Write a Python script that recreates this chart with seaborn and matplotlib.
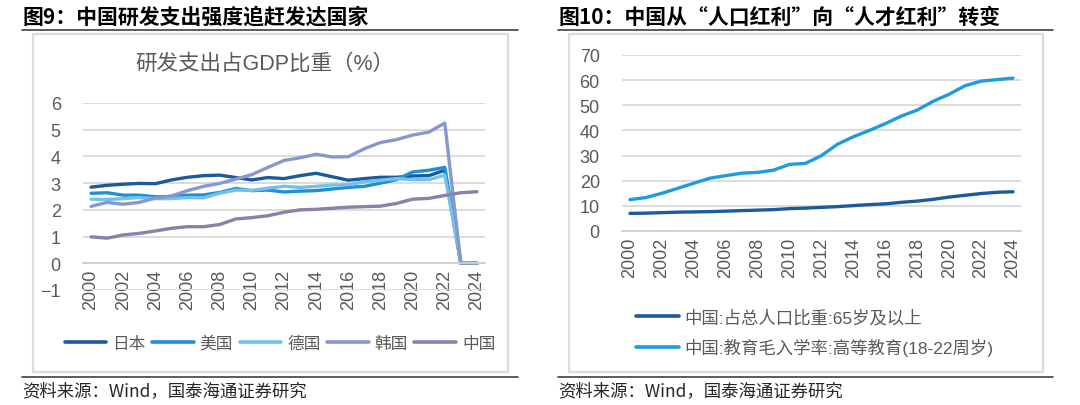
import pandas as pd
import seaborn as sns
import matplotlib.pyplot as plt
from matplotlib.lines import Line2D
from matplotlib.patches import Rectangle

# Data
years = list(range(2000, 2025))

japan = [2.85, 2.92, 2.96, 2.99, 2.98, 3.12, 3.22, 3.28, 3.30, 3.21, 3.12, 3.21, 3.17,
         3.28, 3.37, 3.24, 3.11, 3.17, 3.22, 3.22, 3.27, 3.28, 3.48, 0, 0]
usa = [2.62, 2.64, 2.55, 2.55, 2.49, 2.50, 2.55, 2.56, 2.65, 2.80, 2.72, 2.74, 2.67,
       2.70, 2.72, 2.78, 2.84, 2.88, 3.00, 3.13, 3.42, 3.48, 3.59, 0, 0]
germany = [2.40, 2.39, 2.42, 2.46, 2.42, 2.42, 2.46, 2.45, 2.62, 2.74, 2.73, 2.81, 2.88,
           2.84, 2.88, 2.93, 2.94, 3.05, 3.11, 3.17, 3.13, 3.13, 3.30, 0, 0]
korea = [2.13, 2.28, 2.21, 2.28, 2.44, 2.52, 2.72, 2.88, 2.99, 3.15, 3.32, 3.59, 3.85,
         3.95, 4.08, 3.98, 3.99, 4.29, 4.52, 4.63, 4.80, 4.91, 5.25, 0, 0]
china = [0.99, 0.94, 1.06, 1.12, 1.21, 1.31, 1.37, 1.37, 1.45, 1.66, 1.71, 1.78, 1.91,
         2.00, 2.02, 2.06, 2.10, 2.12, 2.14, 2.24, 2.40, 2.43, 2.54, 2.64, 2.68]
countries = ['日本', '美国', '德国', '韩国', '中国']
country_colors = ['#1b5a9c', '#1f8fd6', '#72c2ec', '#8799cc', '#8a80a9']

aged_65 = [7.0, 7.1, 7.3, 7.5, 7.6, 7.7, 7.9, 8.1, 8.3, 8.5, 8.9, 9.1, 9.4,
           9.7, 10.1, 10.5, 10.8, 11.4, 11.9, 12.6, 13.5, 14.2, 14.9, 15.4, 15.6]
higher_edu = [12.5, 13.3, 15.0, 17.0, 19.0, 21.0, 22.0, 23.0, 23.3, 24.2, 26.5, 26.9, 30.0,
              34.5, 37.5, 40.0, 42.7, 45.7, 48.1, 51.6, 54.4, 57.8, 59.6, 60.2, 60.8]
right_names = ['中国:占总人口比重:65岁及以上', '中国:教育毛入学率:高等教育(18-22周岁)']
right_colors = ['#1b5a9c', '#1f9be0']

sns.set_style('white')
plt.rcParams['font.family'] = ['Liberation Sans', 'Noto Sans CJK SC', 'DejaVu Sans']

W, H = 1080, 406
fig = plt.figure(figsize=(10.8, 4.06), dpi=100)

def px_axes(x0, y0, x1, y1):
    return fig.add_axes([x0 / W, 1 - y1 / H, (x1 - x0) / W, (y1 - y0) / H])

def frame(x0, x1, title):
    # title, rules, grey box and source line
    fig.text(x0 / W, 1 - 17 / H, title, fontsize=15,
             fontweight='bold', va='center', ha='left', color='black',
             family=['Noto Sans CJK SC', 'DejaVu Sans'])
    fig.add_artist(Line2D([x0 / W, x1 / W], [1 - 31 / H] * 2, color='#404040', lw=1.2))
    fig.add_artist(Line2D([x0 / W, x1 / W], [1 - 378 / H] * 2, color='#404040', lw=1.2))
    bx0 = x0 + 11
    bx1 = x1 - 10
    fig.add_artist(Rectangle((bx0 / W, 1 - 373 / H), (bx1 - bx0) / W, 338 / H,
                             fill=False, edgecolor='#dcdcdc', lw=1.6))
    fig.text(x0 / W, 1 - 391 / H, '资料来源：Wind，国泰海通证券研究', fontsize=12.5,
             va='center', ha='left', family=['Noto Sans CJK SC', 'DejaVu Sans'])

def style_axes(ax, ymin, ymax, step):
    ax.set_xlim(1999.5, 2024.5)
    ax.set_ylim(ymin, ymax)
    ax.set_yticks(range(ymin, ymax + 1, step))
    ax.set_xticks(years[::2])
    ax.set_xticks([y - 0.5 for y in years[::2]] + [2024.5], minor=True)
    ax.tick_params(axis='x', which='major', length=0, rotation=90, labelsize=13,
                   colors='#595959', pad=4)
    ax.tick_params(axis='x', which='minor', length=5, color='#d0d0d0', width=1.2)
    ax.tick_params(axis='y', length=0, labelsize=13, colors='#595959', pad=16)
    ax.grid(axis='y', color='#d9d9d9', lw=1.3)
    for s in ['top', 'right', 'left']:
        ax.spines[s].set_visible(False)
    ax.spines['bottom'].set_position(('data', 0))
    ax.spines['bottom'].set_color('#d0d0d0')
    ax.spines['bottom'].set_linewidth(1.3)
    ax.set_xlabel('')
    ax.set_ylabel('')

# Left chart
frame(22, 518, '图9：中国研发支出强度追赶发达国家')
fig.text(265 / W, 1 - 64 / H, '研发支出占GDP比重（%）', fontsize=15.5, color='#595959',
         ha='center', va='center')
df_left = pd.DataFrame({'year': years, '日本': japan, '美国': usa, '德国': germany,
                        '韩国': korea, '中国': china})
df_left = df_left.melt(id_vars='year', var_name='country', value_name='value')
ax1 = px_axes(83, 104, 485, 291)
sns.lineplot(data=df_left, x='year', y='value', hue='country', hue_order=countries,
             palette=country_colors, lw=2.4, ax=ax1, legend=False)
style_axes(ax1, -1, 6, 1)
handles = [Line2D([], [], color=c, lw=2.6) for c in country_colors]
fig.legend(handles, countries, loc='center', bbox_to_anchor=(280 / W, 1 - 344 / H),
           ncol=5, frameon=False, fontsize=12, handlelength=2.5, handletextpad=0.35,
           columnspacing=0.4, labelcolor='#595959')

# Right chart
frame(558, 1053, '图10：中国从“人口红利”向“人才红利”转变')
df_right = pd.DataFrame({'year': years, right_names[0]: aged_65, right_names[1]: higher_edu})
df_right = df_right.melt(id_vars='year', var_name='series', value_name='value')
ax2 = px_axes(622, 56, 1021, 232)
sns.lineplot(data=df_right, x='year', y='value', hue='series', hue_order=right_names,
             palette=right_colors, lw=2.4, ax=ax2, legend=False)
style_axes(ax2, 0, 70, 10)
handles = [Line2D([], [], color=c, lw=2.6) for c in right_colors]
fig.legend(handles, right_names, loc='upper left', bbox_to_anchor=(620 / W, 1 - 294 / H),
           ncol=1, frameon=False, fontsize=12.5, handlelength=2.5, handletextpad=0.3,
           labelspacing=0.75, labelcolor='#595959')

fig.savefig('out.png', dpi=100)
